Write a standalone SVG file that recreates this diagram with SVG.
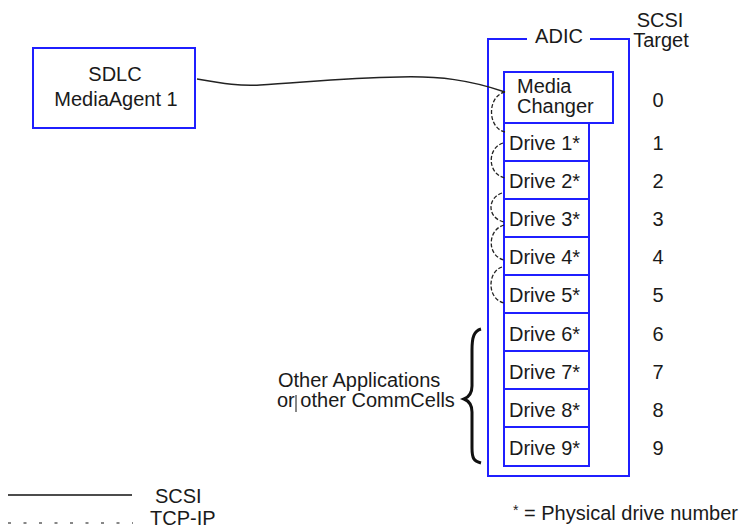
<svg xmlns="http://www.w3.org/2000/svg" width="754" height="529" viewBox="0 0 754 529">
<style>
.box{fill:#fff;stroke:#1f1fff;stroke-width:2}
.t{font-family:"Liberation Sans",Arial,sans-serif;font-size:20px;fill:#1a1a1a}
.m{text-anchor:middle}
.scsi{fill:none;stroke:#222;stroke-width:1.5}
.tcp{fill:none;stroke:#222;stroke-width:1.3;stroke-dasharray:4,2}
</style>
<rect width="754" height="529" fill="#fff"/>
<g id="sdlc">
<rect class="box" x="33" y="48" width="162" height="80"/>
<text class="t m" x="115" y="81">SDLC</text>
<text class="t m" x="116" y="106">MediaAgent 1</text>
</g>
<g id="adic">
<path d="M527,39 H488 V476 H629 V39 H590" fill="none" stroke="#1f1fff" stroke-width="2"/>
<text class="t m" x="559" y="43">ADIC</text>
</g>
<g id="target-header">
<text class="t m" x="660" y="27">SCSI</text>
<text class="t m" x="661" y="47">Target</text>
</g>
<g id="media-changer">
<rect class="box" x="504" y="72" width="109" height="51"/>
<text class="t" x="517" y="93">Media</text>
<text class="t" x="517" y="113">Changer</text>
<text class="t m" x="658" y="107">0</text>
</g>
<g id="drive1"><rect class="box" x="504" y="123" width="85" height="38"/><text class="t" x="509" y="150">Drive 1*</text><text class="t m" x="658" y="150">1</text></g>
<g id="drive2"><rect class="box" x="504" y="161" width="85" height="38"/><text class="t" x="509" y="188">Drive 2*</text><text class="t m" x="658" y="188">2</text></g>
<g id="drive3"><rect class="box" x="504" y="199" width="85" height="38"/><text class="t" x="509" y="226">Drive 3*</text><text class="t m" x="658" y="226">3</text></g>
<g id="drive4"><rect class="box" x="504" y="237" width="85" height="38"/><text class="t" x="509" y="264">Drive 4*</text><text class="t m" x="658" y="264">4</text></g>
<g id="drive5"><rect class="box" x="504" y="275" width="85" height="38"/><text class="t" x="509" y="302">Drive 5*</text><text class="t m" x="658" y="302">5</text></g>
<g id="drive6"><rect class="box" x="504" y="313" width="85" height="38"/><text class="t" x="509" y="341">Drive 6*</text><text class="t m" x="658" y="341">6</text></g>
<g id="drive7"><rect class="box" x="504" y="351" width="85" height="38"/><text class="t" x="509" y="379">Drive 7*</text><text class="t m" x="658" y="379">7</text></g>
<g id="drive8"><rect class="box" x="504" y="389" width="85" height="38"/><text class="t" x="509" y="417">Drive 8*</text><text class="t m" x="658" y="417">8</text></g>
<g id="drive9"><rect class="box" x="504" y="427" width="85" height="39"/><text class="t" x="509" y="455">Drive 9*</text><text class="t m" x="658" y="455">9</text></g>
<g id="other-apps">
<path d="M481,329 C474,331 472,337 472,350 L472,386 C472,393 469,397 464,399 C469,401 472,405 472,412 L472,448 C472,459 474,461 481,463" fill="none" stroke="#111" stroke-width="3"/>
<text class="t" x="278" y="387">Other Applications</text>
<text class="t" x="277" y="407">or other CommCells</text>
<line x1="296" y1="395" x2="296" y2="412" stroke="#111" stroke-width="1"/>
</g>
<g id="connectors">
<path class="scsi" d="M197,79 C225,84 240,86 260,85 C300,83 340,78 400,77 C440,76 470,80 505,92"/>
<path class="tcp" d="M505,92 C487,96 487,128 505,132"/>
<path class="tcp" d="M503,143 C487,148 487,174 505,178"/>
<path class="tcp" d="M502,193 C487,198 487,218 504,222"/>
<path class="tcp" d="M504,225 C487,230 487,256 504,260"/>
<path class="tcp" d="M502,267 C487,272 487,299 504,303"/>
</g>
<g id="legend">
<line x1="8" y1="495" x2="132" y2="495" stroke="#111" stroke-width="1.5"/>
<text class="t" x="155" y="503">SCSI</text>
<line x1="8" y1="523" x2="133" y2="523" stroke="#111" stroke-width="1.2" stroke-dasharray="3,12.5"/>
<text class="t" x="150" y="525" font-size="19">TCP-IP</text>
<text class="t" x="513" y="520"><tspan font-size="14" dy="-5">*</tspan><tspan dy="5"> = Physical drive number</tspan></text>
</g>
</svg>
